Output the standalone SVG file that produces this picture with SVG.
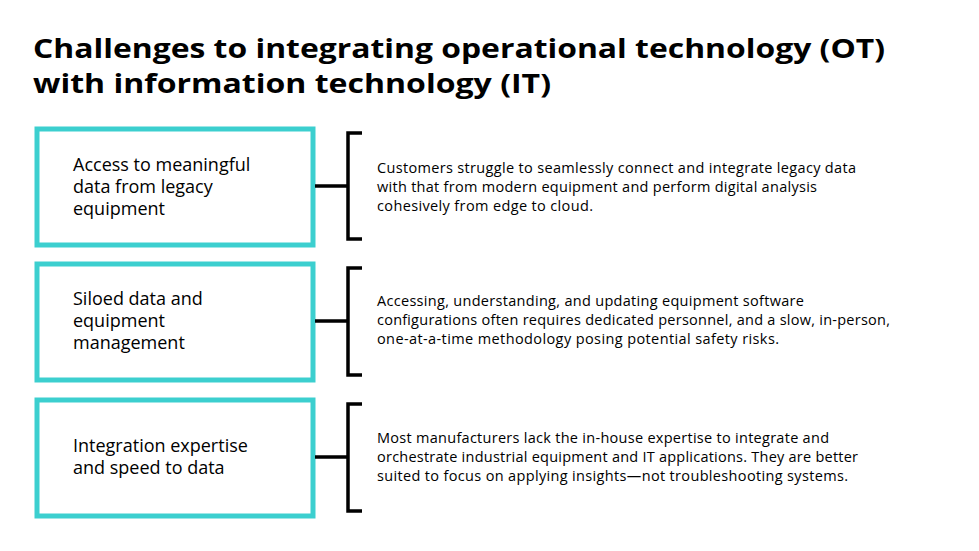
<svg xmlns="http://www.w3.org/2000/svg" width="979" height="551" viewBox="0 0 979 551">
<style>
.box{fill:#fff;stroke:#3ccfcf;stroke-width:5}
.c{fill:none;stroke:#000;stroke-width:3.5}
.t{font-family:"Open Sans","Liberation Sans",sans-serif;font-size:18px;fill:#000}
.d{font-family:"Open Sans","Liberation Sans",sans-serif;font-size:14.5px;fill:#000}
.h{font-family:"Open Sans","Liberation Sans",sans-serif;font-size:27px;font-weight:bold;fill:#000}
</style>
<rect width="979" height="551" fill="#fff"/>
<text class="h" x="33" y="58" textLength="852" lengthAdjust="spacingAndGlyphs">Challenges to integrating operational technology (OT)</text>
<text class="h" x="33" y="93" textLength="518" lengthAdjust="spacingAndGlyphs">with information technology (IT)</text>
<g id="n1"><rect class="box" x="37" y="129" width="276" height="116"/>
<text class="t" x="73" y="171">Access to meaningful</text><text class="t" x="73" y="193">data from legacy</text><text class="t" x="73" y="215">equipment</text></g>
<g id="n2"><rect class="box" x="37" y="264" width="276" height="116"/>
<text class="t" x="73" y="305">Siloed data and</text><text class="t" x="73" y="327">equipment</text><text class="t" x="73" y="349">management</text></g>
<g id="n3"><rect class="box" x="37" y="400" width="276" height="116"/>
<text class="t" x="73" y="452">Integration expertise</text><text class="t" x="73" y="474">and speed to data</text></g>
<g id="d1"><text class="d" x="377" y="173" textLength="479">Customers struggle to seamlessly connect and integrate legacy data</text><text class="d" x="377" y="192" textLength="440">with that from modern equipment and perform digital analysis</text><text class="d" x="377" y="211" textLength="216">cohesively from edge to cloud.</text></g>
<g id="d2"><text class="d" x="377" y="306" textLength="427">Accessing, understanding, and updating equipment software</text><text class="d" x="377" y="325" textLength="513">configurations often requires dedicated personnel, and a slow, in-person,</text><text class="d" x="377" y="344" textLength="402">one-at-a-time methodology posing potential safety risks.</text></g>
<g id="d3"><text class="d" x="377" y="443" textLength="452">Most manufacturers lack the in-house expertise to integrate and</text><text class="d" x="377" y="462" textLength="481">orchestrate industrial equipment and IT applications. They are better</text><text class="d" x="377" y="481" textLength="471">suited to focus on applying insights—not troubleshooting systems.</text></g>
<g id="connectors">
<path class="c" d="M315 186H348M362 133H348V239H362"/>
<path class="c" d="M315 321H348M362 268H348V375H362"/>
<path class="c" d="M315 457H348M362 404H348V511H362"/>
</g>
</svg>
